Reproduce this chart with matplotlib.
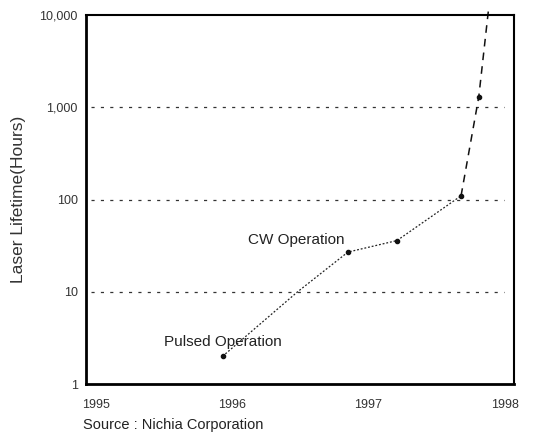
import matplotlib
matplotlib.use("Agg")
import matplotlib.pyplot as plt

plt.rcParams['font.family'] = ['Liberation Sans', 'DejaVu Sans']

# data
years_low = [1995.93, 1996.48, 1996.85, 1997.21, 1997.68]
hours_low = [2, 10, 27, 36, 110]
years_high = [1997.68, 1997.81, 1997.88]
hours_high = [110, 1300, 11000]
marker_years = [1995.93, 1996.85, 1997.21, 1997.68, 1997.81]
marker_hours = [2, 27, 36, 110, 1300]

grid_levels = [10, 100, 1000]
ytick_vals = [1, 10, 100, 1000, 10000]
ytick_labels = ["1", "10", "100", "1,000", "10,000"]
xtick_vals = [1995, 1996, 1997, 1998]
xtick_labels = ["1995", "1996", "1997", "1998"]

fig = plt.figure(figsize=(5.39, 4.34), dpi=100)
ax = fig.add_axes([0.160, 0.115, 0.794, 0.850])
ax.set_yscale("log")
ax.set_ylim(1, 10000)
ax.set_xlim(1994.93, 1998.07)

for lv in grid_levels:
    ax.axhline(lv, xmin=0.01, xmax=0.975, color="#333333", lw=0.9,
               ls=(0, (2.5, 5)), zorder=1)

ax.plot(years_low, hours_low, color="#222222", lw=0.9, ls=(0, (1.5, 1.5)),
        zorder=2)
ax.plot(years_high, hours_high, color="#111111", lw=1.1, ls=(0, (5, 4)),
        zorder=2, clip_on=False)
ax.plot(marker_years, marker_hours, "o", color="#111111", ms=3, zorder=3)

ax.set_yticks(ytick_vals)
ax.set_yticklabels(ytick_labels)
ax.yaxis.set_minor_locator(matplotlib.ticker.NullLocator())
ax.set_xticks(xtick_vals)
ax.set_xticklabels(xtick_labels)
ax.tick_params(length=0, labelsize=9, colors="#333333")
ax.tick_params(axis="y", pad=6)
ax.tick_params(axis="x", pad=11)

for s in ["left", "bottom"]:
    ax.spines[s].set_linewidth(2.0)
for s in ["top", "right"]:
    ax.spines[s].set_linewidth(1.5)

ax.set_ylabel("Laser Lifetime(Hours)", fontsize=12.5, color="#333333",
              labelpad=10)

ax.text(1996.12, 33, "CW Operation", fontsize=11, color="#222222")
ax.text(1995.50, 2.6, "Pulsed Operation", fontsize=11, color="#222222")
fig.text(0.154, 0.012, "Source : Nichia Corporation", fontsize=10.5,
         color="#222222")

fig.savefig("out.png", dpi=100)
